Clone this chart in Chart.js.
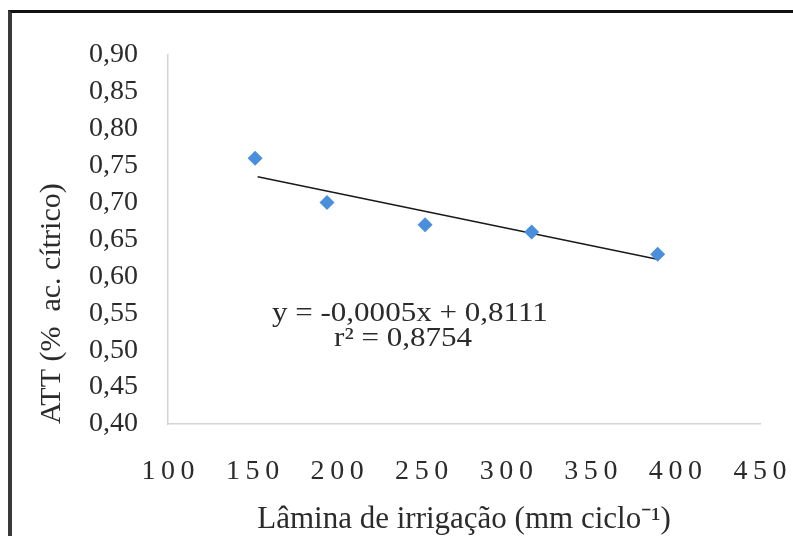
<!DOCTYPE html>
<html>
<head>
<meta charset="utf-8">
<script src="https://cdn.jsdelivr.net/npm/chart.js@4"></script>
<style>
  html, body { margin: 0; padding: 0; background: #fff; }
  #wrap { position: relative; width: 793px; height: 536px; overflow: hidden; }
  #frame {
    position: absolute; left: 8px; top: 10px; right: -10px; bottom: -10px;
    border-top: 3px solid #111; border-left: 4px solid #3a3a3a;
    pointer-events: none;
  }
</style>
</head>
<body>
<div id="wrap">
  <canvas id="attChart"></canvas>
  <div id="frame"></div>
</div>
<script>
// data
const laminaX = [151.5, 194, 252, 315, 389.5];
const attValues = [0.76, 0.70, 0.67, 0.66, 0.63];
const trendX = [153, 390];
const trendY = [0.735, 0.623];
const equationText = 'y = -0,0005x + 0,8111';
const r2Text = 'r\u00B2 = 0,8754';
const xTitle = 'L\u00E2mina de irriga\u00E7\u00E3o (mm ciclo\u207B\u00B9)';
const yTitle = 'ATT (%  ac. c\u00EDtrico)';

const serif = '"Liberation Serif", "Times New Roman", serif';
const textColor = '#2b2b2b';

// writes the regression equation inside the plot (text is a bit wide in the original)
const equationPlugin = {
    id: 'equation',
    afterDatasetsDraw(chart) {
        const ctx = chart.ctx;
        const xs = chart.scales.x;
        const ys = chart.scales.y;
        const lines = [
            [equationText, 243, 0.549],
            [r2Text, 239, 0.515]
        ];
        ctx.save();
        ctx.font = '27px ' + serif;
        ctx.fillStyle = textColor;
        ctx.textAlign = 'center';
        ctx.textBaseline = 'middle';
        lines.forEach(([txt, vx, vy]) => {
            ctx.save();
            ctx.translate(xs.getPixelForValue(vx), ys.getPixelForValue(vy));
            ctx.scale(1.15, 1);
            ctx.fillText(txt, 0, 0);
            ctx.restore();
        });
        ctx.restore();
    }
};

const points = laminaX.map((x, i) => ({ x: x, y: attValues[i] }));
const trend = trendX.map((x, i) => ({ x: x, y: trendY[i] }));

new Chart(document.getElementById('attChart'), {
    type: 'scatter',
    data: {
        datasets: [{
            label: 'ATT',
            data: points,
            pointStyle: 'rectRot',
            pointRadius: 7.5,
            backgroundColor: '#4a8fdb',
            borderColor: '#4a8fdb',
            borderWidth: 0,
            order: 1
        }, {
            type: 'line',
            label: 'Linear',
            data: trend,
            borderColor: '#1a1a1a',
            borderWidth: 1.6,
            pointRadius: 0,
            fill: false,
            order: 2
        }]
    },
    options: {
        responsive: true,
        maintainAspectRatio: false,
        animation: false,
        layout: { padding: { top: 55, right: 33, bottom: 0, left: 0 } },
        plugins: {
            legend: { display: false },
            tooltip: { enabled: false }
        },
        scales: {
            x: {
                type: 'linear',
                min: 100,
                max: 450,
                // tickLength (not padding) pushes labels down without widening the side padding
                grid: { display: false, drawTicks: true, tickLength: 31 },
                border: { display: true, color: '#d4d4d4', width: 1.5 },
                ticks: {
                    stepSize: 50,
                    padding: 0,
                    autoSkip: false,
                    color: textColor,
                    font: { family: serif, size: 28 },
                    callback: (v) => String(v).split('').join('\u2009')
                },
                title: {
                    display: true,
                    text: xTitle,
                    color: textColor,
                    font: { family: serif, size: 31, lineHeight: 1 },
                    padding: { top: 0, bottom: 1 }
                },
                afterFit: (scale) => { scale.height = 112; }
            },
            y: {
                min: 0.4,
                max: 0.9,
                grid: { display: false, drawTicks: true, tickLength: 30 },
                border: { display: true, color: '#d4d4d4', width: 1.5 },
                ticks: {
                    stepSize: 0.05,
                    padding: 0,
                    autoSkip: false,
                    color: textColor,
                    font: { family: serif, size: 28, lineHeight: 1 },
                    callback: (v) => v.toFixed(2).replace('.', ',')
                },
                title: {
                    display: true,
                    text: yTitle,
                    align: 'start',
                    color: textColor,
                    font: { family: serif, size: 30, lineHeight: 1 },
                    padding: { top: 37, bottom: 0 }
                },
                afterFit: (scale) => { scale.width = 168; }
            }
        }
    },
    plugins: [equationPlugin]
});
</script>
</body>
</html>
